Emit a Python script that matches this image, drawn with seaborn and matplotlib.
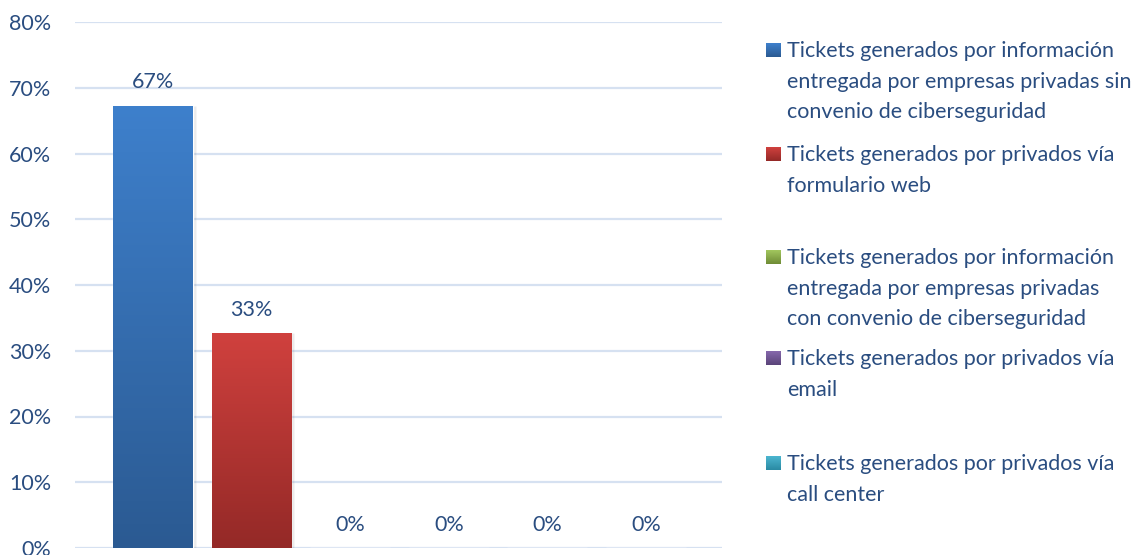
import matplotlib
matplotlib.use("Agg")
import matplotlib.pyplot as plt
import matplotlib.colors as mcolors
import seaborn as sns
import pandas as pd
import numpy as np

# datos del gráfico
categorias = [
    "Tickets generados por información\nentregada por empresas privadas sin\nconvenio de ciberseguridad",
    "Tickets generados por privados vía\nformulario web",
    "Tickets generados por información\nentregada por empresas privadas\ncon convenio de ciberseguridad",
    "Tickets generados por privados vía\nemail",
    "Tickets generados por privados vía\ncall center",
    "Otros",
]
porcentajes = [67.3, 32.7, 0, 0, 0, 0]
etiquetas = ["67%", "33%", "0%", "0%", "0%", "0%"]
en_leyenda = [True, True, True, True, True, False]
colores_sup = ["#3e80cc", "#d0413e", "#a2c65e", "#8668ac", "#4cb6d0", "#f9a05a"]
colores_inf = ["#2b5a92", "#942927", "#6f8c36", "#5a4479", "#2a8aa3", "#c86f24"]
ticks_y = [0, 10, 20, 30, 40, 50, 60, 70, 80]

AZUL_TXT = "#2a4d80"
FS = 15.5

df = pd.DataFrame({"cat": categorias, "pct": porcentajes})

sns.set_theme(style="white")
plt.rcParams["font.family"] = ["Lato", "DejaVu Sans"]

fig = plt.figure(figsize=(11.48, 5.55), dpi=100)
ax = fig.add_axes([75 / 1148, 1 - 548 / 555, (722 - 75) / 1148, (548 - 22) / 555])

mid = [mcolors.to_hex((np.array(mcolors.to_rgb(a)) + np.array(mcolors.to_rgb(b))) / 2)
       for a, b in zip(colores_sup, colores_inf)]
sns.barplot(data=df, x="cat", y="pct", hue="cat", palette=mid, legend=False,
            width=0.81, ax=ax, order=categorias, hue_order=categorias, zorder=3)

ax.set_yticks(ticks_y)
ax.set_yticklabels([f"{t}%" for t in ticks_y])
ax.set_xticks([])
ax.set_xlabel("")
ax.set_ylabel("")
for s in ax.spines.values():
    s.set_visible(False)
ax.yaxis.grid(True, color="#d6e1f1", linewidth=1.6, zorder=0)
ax.tick_params(axis="y", length=0, pad=17, labelsize=FS, labelcolor=AZUL_TXT)

# degradado dentro de cada barra
for p, c1, c2 in zip(list(ax.patches), colores_sup, colores_inf):
    h = p.get_height()
    if h <= 0:
        continue
    x0 = p.get_x()
    w = p.get_width()
    grad = np.linspace(0, 1, 256)[:, None]
    cmap = mcolors.LinearSegmentedColormap.from_list("g", [c1, c2])
    im = ax.imshow(grad, cmap=cmap, aspect="auto", extent=(x0, x0 + w, 0, h),
                   zorder=4, origin="upper")
    im.set_clip_path(p)
    # sombra leve
    ax.bar(x0 + w / 2 + 0.03, h, width=w, color="#000000", alpha=0.08, zorder=2)
ax.set_ylim(0, 80)
ax.set_xlim(-0.79, 5.77)

for i, (v, lab) in enumerate(zip(porcentajes, etiquetas)):
    ax.annotate(lab, (i, v), xytext=(0, 12.5), textcoords="offset points",
                ha="center", va="baseline", fontsize=FS, color=AZUL_TXT, zorder=5)

# leyenda manual en coordenadas de píxel
lay = fig.add_axes([0, 0, 1, 1], zorder=10)
lay.axis("off")
lay.patch.set_alpha(0)
y_leyenda = [50, 154, 257, 358, 463]
k = 0
for cat, c1, c2, show in zip(categorias, colores_sup, colores_inf, en_leyenda):
    if not show:
        continue
    yc = y_leyenda[k]
    cmap = mcolors.LinearSegmentedColormap.from_list("g", [c1, c2])
    lay.imshow(np.linspace(0, 1, 64)[:, None], cmap=cmap, aspect="auto",
               extent=(766, 781, yc + 7, yc - 7))
    lay.text(787, yc - 9, cat, ha="left", va="top", fontsize=FS, color=AZUL_TXT,
             linespacing=1.66)
    k += 1
lay.set_xlim(0, 1148)
lay.set_ylim(555, 0)

fig.savefig("out.png", dpi=100)
